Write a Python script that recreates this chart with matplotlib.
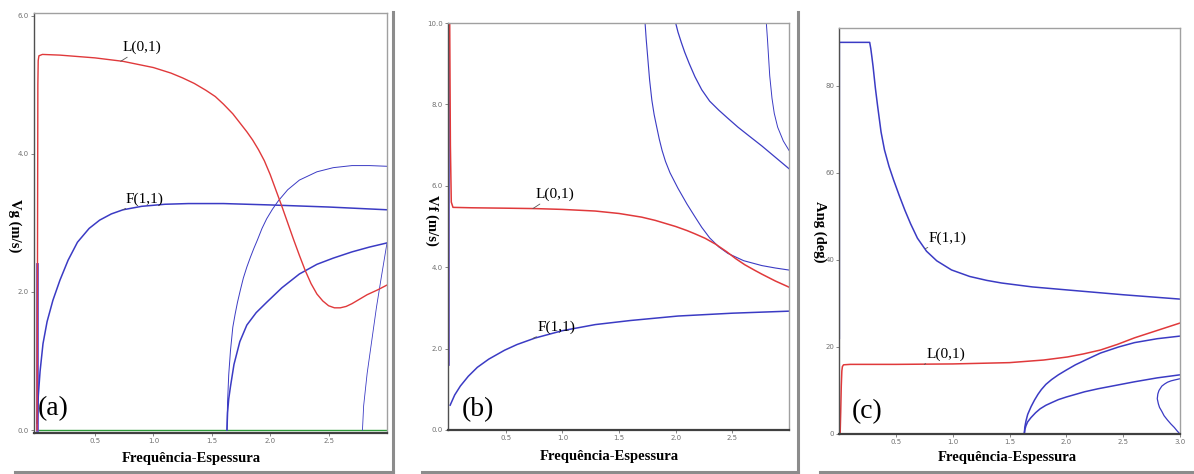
import matplotlib
matplotlib.use('Agg')
import matplotlib.pyplot as plt
from matplotlib.lines import Line2D

# ---------------- (a) group velocity ----------------
a_L01_x = [0.004, 0.008, 0.011, 0.014, 0.02, 0.05, 0.2, 0.5, 0.74, 1.0, 1.15, 1.25, 1.35, 1.45, 1.53, 1.6,
           1.68, 1.74, 1.8, 1.85, 1.9, 1.95, 2.0, 2.05, 2.1, 2.15, 2.2, 2.25, 2.3, 2.35, 2.4, 2.45, 2.5,
           2.55, 2.6, 2.65, 2.7, 2.76, 2.83, 2.92, 3.0]
a_L01_y = [0.0, 2.5, 5.0, 5.35, 5.42, 5.44, 5.43, 5.39, 5.34, 5.25, 5.17, 5.1, 5.02, 4.92, 4.83, 4.72,
           4.58, 4.45, 4.32, 4.2, 4.06, 3.9, 3.7, 3.47, 3.24, 3.0, 2.76, 2.53, 2.31, 2.12, 1.97, 1.87, 1.8,
           1.77, 1.77, 1.79, 1.83, 1.89, 1.96, 2.03, 2.1]
a_F11_x = [0.005, 0.015, 0.03, 0.055, 0.09, 0.14, 0.2, 0.27, 0.35, 0.45, 0.54, 0.64, 0.74, 0.9, 1.1, 1.3,
           1.6, 2.0, 2.5, 3.0]
a_F11_y = [0.1, 0.5, 0.85, 1.25, 1.57, 1.88, 2.17, 2.46, 2.72, 2.92, 3.04, 3.13, 3.19, 3.24, 3.27, 3.28,
           3.28, 3.26, 3.23, 3.19]
a_F11_low_x = [0.0, 0.0]
a_F11_low_y = [0.0, 2.4]
a_m2_x = [1.63, 1.635, 1.645, 1.66, 1.68, 1.7, 1.72, 1.745, 1.77, 1.8, 1.83, 1.86, 1.89, 1.93, 1.97, 2.02,
          2.07, 2.15, 2.25, 2.4, 2.54, 2.7, 2.85, 3.0]
a_m2_y = [0.0, 0.4, 0.8, 1.15, 1.49, 1.68, 1.85, 2.03, 2.2, 2.36, 2.5, 2.63, 2.75, 2.92, 3.06, 3.2,
          3.32, 3.48, 3.62, 3.74, 3.8, 3.83, 3.83, 3.82]
a_m3_x = [1.63, 1.635, 1.645, 1.66, 1.69, 1.74, 1.8, 1.88, 1.97, 2.1, 2.25, 2.4, 2.54, 2.7, 2.85, 3.0]
a_m3_y = [0.0, 0.25, 0.45, 0.63, 0.95, 1.28, 1.52, 1.7, 1.85, 2.06, 2.26, 2.4, 2.49, 2.58, 2.65, 2.71]
a_m4_x = [2.79, 2.8, 2.83, 2.87, 2.91, 2.95, 3.0]
a_m4_y = [0.0, 0.35, 0.82, 1.3, 1.78, 2.2, 2.71]
a_base_x = [0.0, 3.0]
a_base_y = [0.0, 0.0]

# ---------------- (b) phase velocity ----------------
b_L01_x = [0.006, 0.012, 0.02, 0.035, 0.2, 0.5, 0.76, 1.0, 1.29, 1.5, 1.7, 1.82, 2.0, 2.1, 2.17, 2.26,
           2.35, 2.45, 2.53, 2.61, 2.7, 2.76, 2.88, 3.0]
b_L01_y = [10.0, 7.0, 5.6, 5.47, 5.46, 5.45, 5.44, 5.42, 5.38, 5.32, 5.23, 5.15, 5.0, 4.9, 4.82, 4.71,
           4.57, 4.38, 4.21, 4.06, 3.92, 3.83, 3.66, 3.51]
b_F11_x = [0.01, 0.05, 0.1, 0.17, 0.25, 0.35, 0.49, 0.6, 0.76, 1.0, 1.29, 1.6, 2.02, 2.5, 3.0]
b_F11_y = [0.61, 0.86, 1.08, 1.32, 1.54, 1.74, 1.96, 2.1, 2.26, 2.44, 2.59, 2.69, 2.8, 2.87, 2.92]
b_F11_low_x = [0.002, 0.002]
b_F11_low_y = [1.6, 10.0]
b_m1_x = [1.73, 1.74, 1.755, 1.77, 1.79, 1.81, 1.83, 1.855, 1.88, 1.91, 1.95, 2.02, 2.1, 2.17, 2.23, 2.3,
          2.38, 2.46, 2.6, 2.76, 2.88, 3.0]
b_m1_y = [10.0, 9.6, 9.1, 8.6, 8.1, 7.75, 7.48, 7.15, 6.87, 6.6, 6.32, 5.94, 5.55, 5.24, 4.98, 4.72,
          4.5, 4.34, 4.16, 4.04, 3.98, 3.93]
b_m2_x = [2.0, 2.02, 2.05, 2.08, 2.12, 2.17, 2.23, 2.3, 2.38, 2.46, 2.55, 2.65, 2.76, 2.88, 3.0]
b_m2_y = [10.0, 9.78, 9.52, 9.28, 9.0, 8.68, 8.36, 8.08, 7.86, 7.66, 7.44, 7.22, 6.98, 6.7, 6.42]
b_m3_x = [2.8, 2.81, 2.83, 2.85, 2.87, 2.9, 2.95, 3.0]
b_m3_y = [10.0, 9.6, 8.7, 8.15, 7.78, 7.44, 7.1, 6.87]

# ---------------- (c) angle ----------------
c_F11_x = [0.003, 0.003, 0.27, 0.28, 0.29, 0.3, 0.32, 0.34, 0.37, 0.4, 0.44, 0.48, 0.53, 0.58, 0.63,
           0.69, 0.77, 0.86, 0.99, 1.15, 1.3, 1.43, 1.7, 2.01, 2.5, 3.0]
c_F11_y = [22.0, 90.0, 90.0, 88.5, 86.5, 84.4, 79.5, 75.3, 69.4, 65.3, 61.5, 58.4, 54.8, 51.4, 48.3,
           45.0, 42.0, 39.8, 37.7, 36.2, 35.3, 34.7, 33.8, 33.1, 32.0, 31.0]
c_L01_x = [0.01, 0.015, 0.02, 0.025, 0.03, 0.04, 0.1, 0.5, 1.0, 1.5, 1.8, 2.01, 2.15, 2.3, 2.45, 2.6,
           2.8, 3.0]
c_L01_y = [0.0, 5.0, 11.0, 14.5, 15.5, 15.9, 16.0, 16.0, 16.1, 16.4, 17.0, 17.7, 18.4, 19.3, 20.6, 22.1,
           23.8, 25.5]
c_m1_x = [1.63, 1.635, 1.645, 1.66, 1.69, 1.72, 1.75, 1.78, 1.82, 1.87, 1.93, 2.0, 2.08, 2.16, 2.3,
          2.46, 2.6, 2.8, 3.0]
c_m1_y = [0.0, 1.6, 3.0, 4.5, 6.3, 7.8, 9.1, 10.2, 11.4, 12.5, 13.6, 14.7, 15.9, 16.9, 18.6, 20.0,
          21.0, 21.9, 22.5]
c_m2_x = [1.63, 1.635, 1.645, 1.66, 1.69, 1.73, 1.77, 1.82, 1.87, 1.93, 2.0, 2.08, 2.16, 2.28, 2.4,
          2.6, 2.8, 3.0]
c_m2_y = [0.0, 1.0, 1.9, 2.8, 3.8, 4.9, 5.8, 6.6, 7.2, 7.9, 8.5, 9.1, 9.7, 10.4, 11.0, 12.0, 12.9, 13.6]
c_m3_x = [3.0, 2.975, 2.95, 2.92, 2.89, 2.86, 2.84, 2.82, 2.81, 2.8, 2.805, 2.815, 2.84, 2.865, 2.89,
          2.92, 2.95, 2.975, 3.0]
c_m3_y = [0.0, 0.7, 1.5, 2.3, 3.2, 4.2, 5.2, 6.1, 6.9, 8.1, 9.2, 10.0, 11.0, 11.5, 11.9, 12.2, 12.4,
          12.55, 12.7]

x_ticks = [0.5, 1.0, 1.5, 2.0, 2.5]
x_ticks_c = [0.5, 1.0, 1.5, 2.0, 2.5, 3.0]
y_ticks_a = [0.0, 2.0, 4.0, 6.0]
y_ticks_b = [0.0, 2.0, 4.0, 6.0, 8.0, 10.0]
y_ticks_c = [0, 20, 40, 60, 80]

RED = '#e0393b'
BLUE = '#3b3bc4'
SERIF = ['Liberation Serif', 'DejaVu Serif']

W, H = 1194, 474
fig = plt.figure(figsize=(W / 100, H / 100), dpi=100)
fig.patch.set_facecolor('white')


def px_axes(x0, y0, x1, y1):
    return fig.add_axes([x0 / W, 1 - y1 / H, (x1 - x0) / W, (y1 - y0) / H])


def style(ax, xlabel, ylabel, letter, xl, yl, lp):
    for s in ['top', 'right']:
        ax.spines[s].set_color('#a0a0a0')
        ax.spines[s].set_linewidth(1.0)
    ax.spines['left'].set_color('#505050')
    ax.spines['left'].set_linewidth(1.0)
    ax.spines['bottom'].set_color('#404040')
    ax.spines['bottom'].set_linewidth(1.6)
    ax.tick_params(labelsize=5, colors='#707070', length=2, width=0.6, pad=1.5)
    ax.set_xlabel(xlabel, fontsize=10.5, fontweight='bold', family=SERIF)
    ax.xaxis.label.set_va('center')
    ax.xaxis.set_label_coords(*xl)
    ax.set_ylabel(ylabel, fontsize=10.5, fontweight='bold', family=SERIF, rotation=270)
    ax.yaxis.label.set_va('center')
    ax.yaxis.set_label_coords(*yl)
    ax.text(lp[0], lp[1], letter, transform=ax.transAxes, fontsize=20, family=SERIF,
            ha='center', va='center')


def tag(ax, text, xy, xytext):
    ax.annotate(text, xy=xy, xytext=xytext, fontsize=11, family=SERIF, ha='left', va='bottom',
                arrowprops=dict(arrowstyle='-', lw=0.6, color='#555555', shrinkA=0, shrinkB=0))


# (a)
ax1 = px_axes(34, 13, 387, 433)
ax1.plot(a_base_x, a_base_y, color='#2e9a3a', lw=1.0)
ax1.plot(a_m2_x, a_m2_y, color=BLUE, lw=0.7)
ax1.plot(a_m3_x, a_m3_y, color=BLUE, lw=1.1)
ax1.plot(a_m4_x, a_m4_y, color=BLUE, lw=0.6)
ax1.plot(a_F11_low_x, a_F11_low_y, color='#6a4fd0', lw=2.0)
ax1.plot(a_F11_x, a_F11_y, color=BLUE, lw=1.1)
ax1.plot(a_L01_x, a_L01_y, color=RED, lw=1.0)
ax1.set_xlim(-0.022, 3.0)
ax1.set_ylim(-0.043, 6.04)
ax1.set_xticks(x_ticks)
ax1.set_xticklabels([f'{t:.1f}' for t in x_ticks])
ax1.set_yticks(y_ticks_a)
ax1.set_yticklabels([f'{t:.1f}' for t in y_ticks_a])
style(ax1, 'Frequência-Espessura', 'Vg (m/s)', '(a)', (0.445, -0.06), (-0.054, 0.493), (0.054, 0.057))
tag(ax1, 'L(0,1)', (0.72, 5.34), (0.74, 5.44))
tag(ax1, 'F(1,1)', (0.74, 3.19), (0.76, 3.25))

# (b)
ax2 = px_axes(448, 23, 789, 430)
ax2.plot(b_F11_low_x, b_F11_low_y, color='#6a4fd0', lw=1.2)
ax2.plot(b_m1_x, b_m1_y, color=BLUE, lw=0.8)
ax2.plot(b_m2_x, b_m2_y, color=BLUE, lw=0.9)
ax2.plot(b_m3_x, b_m3_y, color=BLUE, lw=0.7)
ax2.plot(b_L01_x, b_L01_y, color=RED, lw=1.1)
ax2.plot(b_F11_x, b_F11_y, color=BLUE, lw=1.1)
ax2.set_xlim(-0.009, 3.0)
ax2.set_ylim(0.0, 10.0)
ax2.set_xticks(x_ticks)
ax2.set_xticklabels([f'{t:.1f}' for t in x_ticks])
ax2.set_yticks(y_ticks_b)
ax2.set_yticklabels([f'{t:.1f}' for t in y_ticks_b])
style(ax2, 'Frequência-Espessura', 'Vf (m/s)', '(b)', (0.472, -0.066), (-0.047, 0.516), (0.088, 0.049))
tag(ax2, 'L(0,1)', (0.74, 5.44), (0.76, 5.62))
tag(ax2, 'F(1,1)', (0.74, 2.25), (0.78, 2.36))

# (c)
ax3 = px_axes(839, 28, 1180, 434)
ax3.plot(c_m1_x, c_m1_y, color=BLUE, lw=1.1)
ax3.plot(c_m2_x, c_m2_y, color=BLUE, lw=1.1)
ax3.plot(c_m3_x, c_m3_y, color=BLUE, lw=0.9)
ax3.plot(c_F11_x, c_F11_y, color=BLUE, lw=1.1)
ax3.plot(c_L01_x, c_L01_y, color=RED, lw=1.1)
ax3.set_xlim(0.0, 3.0)
ax3.set_ylim(0.0, 93.3)
ax3.set_xticks(x_ticks_c)
ax3.set_xticklabels([f'{t:.1f}' for t in x_ticks_c])
ax3.set_yticks(y_ticks_c)
ax3.set_yticklabels([str(t) for t in y_ticks_c])
style(ax3, 'Frequência-Espessura', 'Ang (deg)', '(c)', (0.493, -0.057), (-0.056, 0.4975), (0.082, 0.054))
tag(ax3, 'F(1,1)', (0.76, 42.6), (0.79, 43.5))
tag(ax3, 'L(0,1)', (0.75, 16.0), (0.77, 16.8))

# panel frames with drop shadow
frame = [((393, 12), (393, 472)), ((15, 472), (393, 472)),
         ((798, 12), (798, 472)), ((422, 472), (798, 472)),
         ((820, 472), (1194, 472))]
for (x0, y0), (x1, y1) in frame:
    fig.add_artist(Line2D([x0 / W, x1 / W], [1 - y0 / H, 1 - y1 / H], color='#8c8c8c', lw=2.2,
                          transform=fig.transFigure))

fig.savefig('out.png', dpi=100)
